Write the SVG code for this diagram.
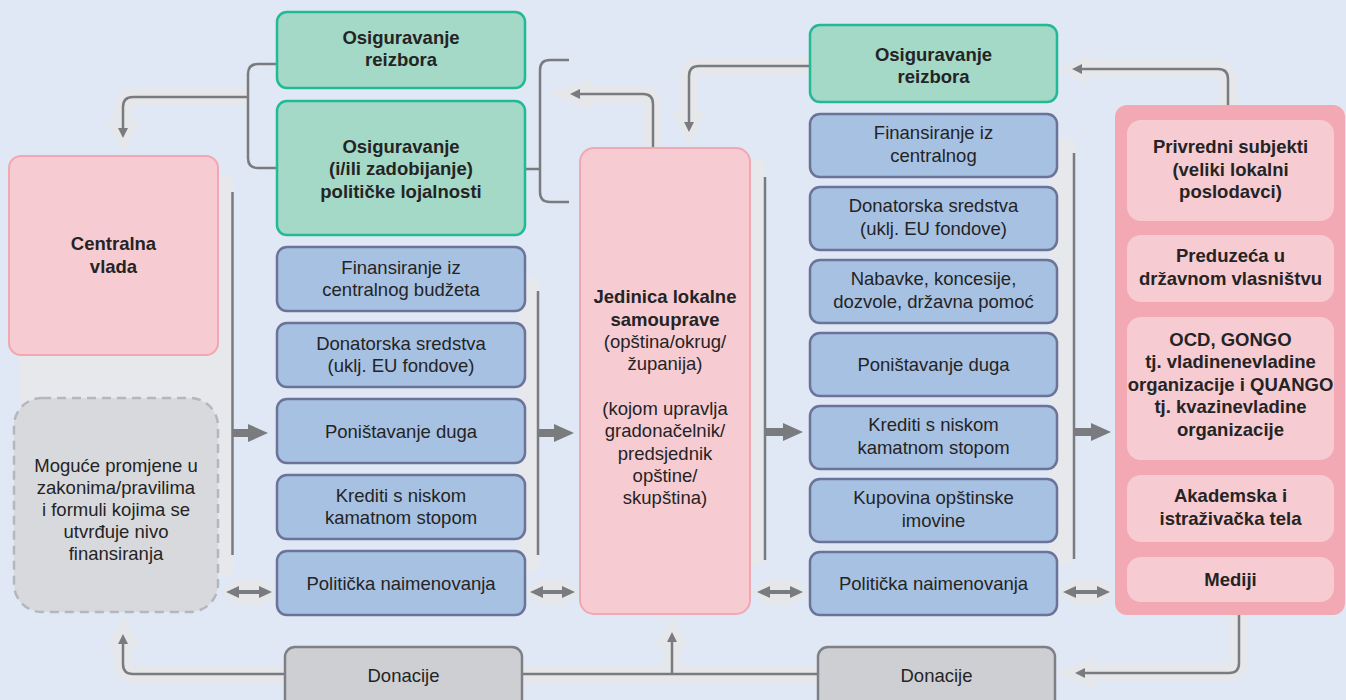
<svg xmlns="http://www.w3.org/2000/svg" width="1346" height="700" viewBox="0 0 1346 700">
  <defs>
    <style>
      .txt { font-family: "Liberation Sans", Arial, sans-serif; font-size: 18.5px; fill: #242424; text-anchor: middle; }
      .b { font-weight: bold; }
      .green { fill: #a4d8c7; stroke: #22b995; stroke-width: 2.5; }
      .blue { fill: #a7c1e3; stroke: #6b7398; stroke-width: 2.5; }
      .pink { fill: #f7cbd2; stroke: #f2a7b2; stroke-width: 2; }
      .ghost { fill: #d8d9dd; stroke: #b4b7be; stroke-width: 2.5; stroke-dasharray: 9 6; }
      .don { fill: #cecfd3; stroke: #7f8085; stroke-width: 2.5; }
      .outer { fill: #f2a9b4; }
      .inner { fill: #f7cbd2; }
      .band { fill: #e6e8ec; }
      .halo { fill: none; stroke: #e6e7ea; stroke-width: 18; }
      .haloHead { fill: #e6e7ea; }
      .wire { fill: none; stroke: #7a7b7f; stroke-width: 2.5; }
      .head { fill: #7a7b7f; }
    </style>
  </defs>

  <rect width="1346" height="700" fill="#dfe8f4"/>

  <!-- bands behind the vertical distribution lines -->
  <g id="bands">
    <rect class="band" x="20" y="175" width="214" height="400" rx="6"/>
    <rect class="band" x="518" y="277" width="21" height="294" rx="6"/>
    <rect class="band" x="744" y="160" width="22" height="405" rx="6"/>
    <rect class="band" x="1050" y="137" width="25" height="428" rx="6"/>
  </g>

  <g id="connectors">
    <!-- halos -->
    <path class="halo" d="M248 97 H135 Q123 97 123 109 V124"/>
    <polygon class="haloHead" points="107,122 139,122 123,155"/>
    <path class="halo" d="M653 148 V106 Q653 94 641 94 H590"/>
    <polygon class="haloHead" points="592,78 592,110 547,94"/>
    <path class="halo" d="M810 66 H701 Q689 66 689 78 V114"/>
    <polygon class="haloHead" points="673,112 705,112 689,147"/>
    <path class="halo" d="M1228 105 V81 Q1228 69 1216 69 H1088"/>
    <polygon class="haloHead" points="1090,53 1090,85 1058,69"/>
    <path class="halo" d="M1239 615 V661 Q1239 673 1227 673 H1093"/>
    <polygon class="haloHead" points="1095,657 1095,689 1056,673"/>
    <path class="halo" d="M818 674 H522 M672 674 V645"/>
    <polygon class="haloHead" points="656,647 688,647 672,615"/>
    <path class="halo" d="M285 674 H135 Q123 674 123 662 V645"/>
    <polygon class="haloHead" points="107,647 139,647 123,614"/>
    <!-- double-arrow halos -->
    <polygon class="haloHead" points="221,592 236,579 262,579 277,592 262,605 236,605"/>
    <polygon class="haloHead" points="525,592 540,579 565,579 580,592 565,605 540,605"/>
    <polygon class="haloHead" points="752,592 767,579 793,579 808,592 793,605 767,605"/>
    <polygon class="haloHead" points="1058,592 1073,579 1100,579 1115,592 1100,605 1073,605"/>

    <!-- brackets around the loyalty boxes -->
    <path class="wire" d="M277 64 H258 Q248 64 248 74 V158 Q248 168 258 168 H277"/>
    <path class="wire" d="M569 60 H550 Q540 60 540 70 V192 Q540 202 550 202 H569 M525 169 H540"/>

    <!-- return loops -->
    <path class="wire" d="M248 97 H133 Q123 97 123 107 V129"/>
    <polygon class="head" points="118,128 128,128 123,138"/>
    <path class="wire" d="M653 148 V104 Q653 94 643 94 H579"/>
    <polygon class="head" points="580,89 580,99 570,94"/>
    <path class="wire" d="M810 66 H699 Q689 66 689 76 V123"/>
    <polygon class="head" points="684,122 694,122 689,132"/>
    <path class="wire" d="M1228 105 V79 Q1228 69 1218 69 H1081"/>
    <polygon class="head" points="1082,64 1082,74 1072,69"/>
    <path class="wire" d="M1239 615 V663 Q1239 673 1229 673 H1084"/>
    <polygon class="head" points="1085,668 1085,678 1075,673"/>
    <path class="wire" d="M818 674 H522 M672 674 V641"/>
    <polygon class="head" points="667,642 677,642 672,632"/>
    <path class="wire" d="M285 674 H133 Q123 674 123 664 V643"/>
    <polygon class="head" points="118,644 128,644 123,634"/>

    <!-- vertical collectors with thick arrows -->
    <path class="wire" d="M232.5 192 V555 M538 291 V555 M765 177 V560 M1074 153 V559"/>
    <path class="head" d="M233 429 H248 V424 L268 433 L248 442 V437 H233 Z"/>
    <path class="head" d="M539 429 H554 V424 L574 433 L554 442 V437 H539 Z"/>
    <path class="head" d="M766 428 H783 V423 L803 432 L783 441 V436 H766 Z"/>
    <path class="head" d="M1075 428 H1091 V423 L1111 432 L1091 441 V436 H1075 Z"/>

    <!-- two-way links at the bottom row -->
    <path class="head" d="M226 592 L239 586 V590 H259 V586 L272 592 L259 598 V594 H239 V598 Z"/>
    <path class="head" d="M530 592 L543 586 V590 H562 V586 L575 592 L562 598 V594 H543 V598 Z"/>
    <path class="head" d="M757 592 L770 586 V590 H790 V586 L803 592 L790 598 V594 H770 V598 Z"/>
    <path class="head" d="M1063 592 L1076 586 V590 H1097 V586 L1110 592 L1097 598 V594 H1076 V598 Z"/>
  </g>

  <g id="centralna-vlada">
    <rect class="pink" x="9" y="156" width="209" height="199" rx="12"/>
    <text class="txt b" x="113.5"><tspan x="113.5" y="250">Centralna</tspan><tspan x="113.5" y="273">vlada</tspan></text>
  </g>

  <g id="promjene">
    <rect class="ghost" x="14" y="398" width="204" height="214" rx="28"/>
    <text class="txt"><tspan x="116" y="472">Moguće promjene u</tspan><tspan x="116" y="494">zakonima/pravilima</tspan><tspan x="116" y="516">i formuli kojima se</tspan><tspan x="116" y="538">utvrđuje nivo</tspan><tspan x="116" y="560">finansiranja</tspan></text>
  </g>

  <g id="reizbor-lijevo">
    <rect class="green" x="277" y="12" width="248" height="76" rx="10"/>
    <text class="txt b"><tspan x="401" y="43.5">Osiguravanje</tspan><tspan x="401" y="66">reizbora</tspan></text>
  </g>

  <g id="lojalnost">
    <rect class="green" x="277" y="101" width="248" height="134" rx="10"/>
    <text class="txt b"><tspan x="401" y="152.5">Osiguravanje</tspan><tspan x="401" y="175">(i/ili zadobijanje)</tspan><tspan x="401" y="197.5">političke lojalnosti</tspan></text>
  </g>

  <g id="lijevo-finansiranje">
    <rect class="blue" x="277" y="247" width="248" height="64" rx="10"/>
    <text class="txt"><tspan x="401" y="273.5">Finansiranje iz</tspan><tspan x="401" y="296">centralnog budžeta</tspan></text>
  </g>
  <g id="lijevo-donatorska">
    <rect class="blue" x="277" y="323" width="248" height="64" rx="10"/>
    <text class="txt"><tspan x="401" y="349.5">Donatorska sredstva</tspan><tspan x="401" y="372">(uklj. EU fondove)</tspan></text>
  </g>
  <g id="lijevo-dug">
    <rect class="blue" x="277" y="399" width="248" height="64" rx="10"/>
    <text class="txt" x="401" y="437.5">Poništavanje duga</text>
  </g>
  <g id="lijevo-krediti">
    <rect class="blue" x="277" y="475" width="248" height="64" rx="10"/>
    <text class="txt"><tspan x="401" y="501.5">Krediti s niskom</tspan><tspan x="401" y="524">kamatnom stopom</tspan></text>
  </g>
  <g id="lijevo-naimenovanja">
    <rect class="blue" x="277" y="551" width="248" height="64" rx="10"/>
    <text class="txt" x="401" y="589.5">Politička naimenovanja</text>
  </g>

  <g id="jedinica">
    <rect class="pink" x="580" y="148" width="170" height="466" rx="14"/>
    <text class="txt"><tspan class="b" x="665" y="303">Jedinica lokalne</tspan><tspan class="b" x="665" y="326">samouprave</tspan><tspan x="665" y="348">(opština/okrug/</tspan><tspan x="665" y="370">županija)</tspan><tspan x="665" y="415">(kojom upravlja</tspan><tspan x="665" y="437">gradonačelnik/</tspan><tspan x="665" y="460">predsjednik</tspan><tspan x="665" y="482">opštine/</tspan><tspan x="665" y="504">skupština)</tspan></text>
  </g>

  <g id="reizbor-desno">
    <rect class="green" x="810" y="25" width="247" height="77" rx="10"/>
    <text class="txt b"><tspan x="933.5" y="61">Osiguravanje</tspan><tspan x="933.5" y="83">reizbora</tspan></text>
  </g>

  <g id="desno-finansiranje">
    <rect class="blue" x="810" y="114" width="247" height="63" rx="10"/>
    <text class="txt"><tspan x="933.5" y="139">Finansiranje iz</tspan><tspan x="933.5" y="161.5">centralnog</tspan></text>
  </g>
  <g id="desno-donatorska">
    <rect class="blue" x="810" y="187" width="247" height="63" rx="10"/>
    <text class="txt"><tspan x="933.5" y="212">Donatorska sredstva</tspan><tspan x="933.5" y="234.5">(uklj. EU fondove)</tspan></text>
  </g>
  <g id="desno-nabavke">
    <rect class="blue" x="810" y="260" width="247" height="63" rx="10"/>
    <text class="txt"><tspan x="933.5" y="285">Nabavke, koncesije,</tspan><tspan x="933.5" y="307.5">dozvole, državna pomoć</tspan></text>
  </g>
  <g id="desno-dug">
    <rect class="blue" x="810" y="333" width="247" height="63" rx="10"/>
    <text class="txt" x="933.5" y="370.5">Poništavanje duga</text>
  </g>
  <g id="desno-krediti">
    <rect class="blue" x="810" y="406" width="247" height="63" rx="10"/>
    <text class="txt"><tspan x="933.5" y="431">Krediti s niskom</tspan><tspan x="933.5" y="453.5">kamatnom stopom</tspan></text>
  </g>
  <g id="desno-imovina">
    <rect class="blue" x="810" y="479" width="247" height="63" rx="10"/>
    <text class="txt"><tspan x="933.5" y="504">Kupovina opštinske</tspan><tspan x="933.5" y="526.5">imovine</tspan></text>
  </g>
  <g id="desno-naimenovanja">
    <rect class="blue" x="810" y="552" width="247" height="63" rx="10"/>
    <text class="txt" x="933.5" y="589.5">Politička naimenovanja</text>
  </g>

  <g id="akteri">
    <rect class="outer" x="1115" y="105" width="230" height="510" rx="12"/>
    <rect class="inner" x="1127" y="120" width="207" height="101" rx="14"/>
    <text class="txt b"><tspan x="1230.5" y="153">Privredni subjekti</tspan><tspan x="1230.5" y="175.5">(veliki lokalni</tspan><tspan x="1230.5" y="198">poslodavci)</tspan></text>
    <rect class="inner" x="1127" y="235" width="207" height="67" rx="14"/>
    <text class="txt b"><tspan x="1230.5" y="262">Preduzeća u</tspan><tspan x="1230.5" y="284.5">državnom vlasništvu</tspan></text>
    <rect class="inner" x="1127" y="317" width="207" height="143" rx="14"/>
    <text class="txt b"><tspan x="1230.5" y="346">OCD, GONGO</tspan><tspan x="1230.5" y="368.4">tj. vladinenevladine</tspan><tspan x="1230.5" y="390.8">organizacije i QUANGO</tspan><tspan x="1230.5" y="413.2">tj. kvazinevladine</tspan><tspan x="1230.5" y="435.6">organizacije</tspan></text>
    <rect class="inner" x="1127" y="475" width="207" height="67" rx="14"/>
    <text class="txt b"><tspan x="1230.5" y="502">Akademska i</tspan><tspan x="1230.5" y="524.5">istraživačka tela</tspan></text>
    <rect class="inner" x="1127" y="557" width="207" height="45" rx="14"/>
    <text class="txt b" x="1230.5" y="585.5">Mediji</text>
  </g>

  <g id="donacije-lijevo">
    <rect class="don" x="285" y="647" width="237" height="70" rx="10"/>
    <text class="txt" x="403.5" y="682">Donacije</text>
  </g>
  <g id="donacije-desno">
    <rect class="don" x="818" y="647" width="237" height="70" rx="10"/>
    <text class="txt" x="936.5" y="682">Donacije</text>
  </g>
</svg>
